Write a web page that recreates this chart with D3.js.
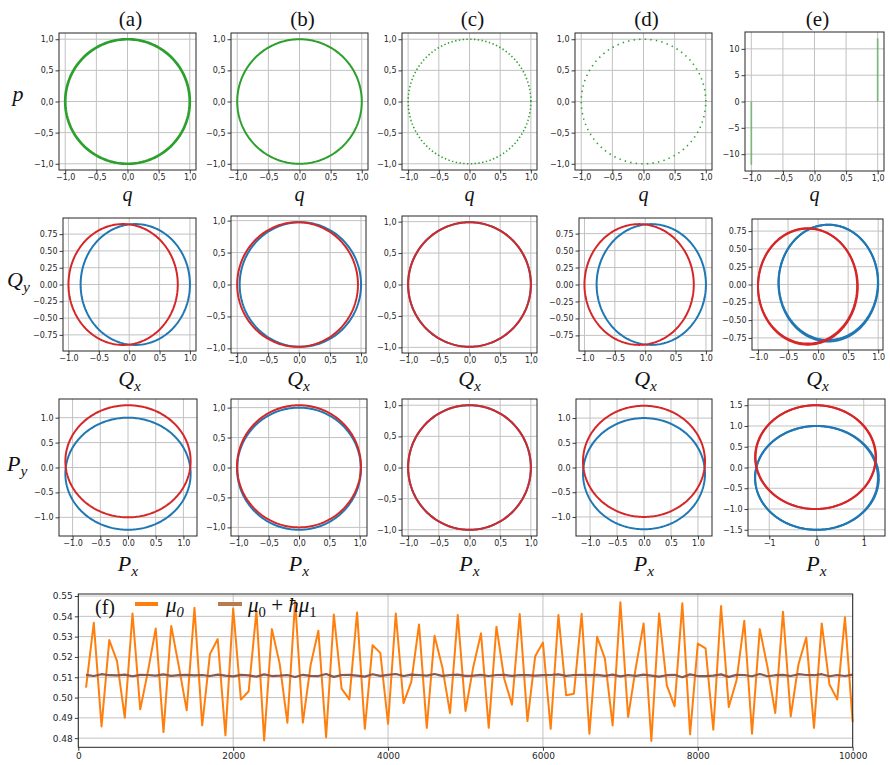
<!DOCTYPE html>
<html>
<head>
<meta charset="utf-8">
<script src="https://cdn.jsdelivr.net/npm/d3@7"></script>
<style>
  body { margin: 0; background: #fff; }
  svg { display: block; }
</style>
</head>
<body>
<svg id="chart" width="890" height="765"></svg>
<script>
// ---- data ----
const panelTitles = ["(a)", "(b)", "(c)", "(d)", "(e)"];

// row 1: phase portraits (q, p); radius of the sampled circle per column
const phaseRadius = [1.0, 1.0, 1.0, 1.0];
const phaseStyle = ["dense", "solid", "dots", "sparse"];
// row 1 (e): the two jumps, [q, p start, p end]
const phaseJumps = [[-1, 0, -12], [1, 0, 12]];

// rows 2 and 3: orbits, [column, series, cx, cy, rx, ry, tilt in degrees]
const qOrbits = [
  [0, "A", 0.10, 0.00, 0.90, 0.90, 0],
  [0, "B", -0.10, 0.00, 0.90, 0.90, 0],
  [1, "A", 0.02, 0.00, 0.98, 0.975, 0],
  [1, "B", -0.025, 0.00, 0.975, 0.975, 0],
  [2, "A", 0.00, 0.00, 1.00, 0.99, 0],
  [2, "B", 0.00, 0.00, 1.00, 0.99, 0],
  [3, "A", 0.10, 0.00, 0.90, 0.89, 0],
  [3, "B", -0.10, 0.00, 0.90, 0.89, 0],
  [4, "A", 0.17, 0.02, 0.83, 0.82, 0],
  [4, "A", 0.17, 0.03, 0.825, 0.81, 3],
  [4, "B", -0.175, -0.02, 0.825, 0.81, 0],
  [4, "B", -0.17, -0.03, 0.83, 0.815, 3]
];
const pOrbits = [
  [0, "A", 0.00, -0.125, 1.13, 1.125, 0],
  [0, "B", 0.00, 0.125, 1.13, 1.125, 0],
  [1, "A", 0.00, -0.02, 1.02, 1.02, 0],
  [1, "B", 0.00, 0.02, 1.02, 1.02, 0],
  [2, "A", 0.00, 0.00, 1.00, 1.00, 0],
  [2, "B", 0.00, 0.00, 1.00, 1.00, 0],
  [3, "A", 0.00, -0.125, 1.13, 1.125, 0],
  [3, "B", 0.00, 0.125, 1.13, 1.125, 0],
  [4, "A", 0.01, -0.25, 1.31, 1.25, 0],
  [4, "A", 0.00, -0.25, 1.30, 1.25, -2],
  [4, "B", -0.02, 0.25, 1.27, 1.25, 0],
  [4, "B", -0.02, 0.25, 1.28, 1.25, 2]
];

// panel (f): time series, one value every 100 steps
const stepSize = 100;
const mu0 = [
  0.5049, 0.5368, 0.4858, 0.5283, 0.5179, 0.4901, 0.5414, 0.4942, 0.5130, 0.5340,
  0.4830, 0.5353, 0.5150, 0.4937, 0.5442, 0.4863, 0.5214, 0.5288, 0.4814, 0.5439,
  0.4990, 0.5031, 0.5426, 0.4789, 0.5337, 0.5167, 0.4876, 0.5475, 0.4876, 0.5160,
  0.5329, 0.4805, 0.5409, 0.5044, 0.4991, 0.5419, 0.4846, 0.5258, 0.5220, 0.4871,
  0.5414, 0.4973, 0.5077, 0.5360, 0.4851, 0.5304, 0.5151, 0.4924, 0.5406, 0.4934,
  0.5150, 0.5316, 0.4851, 0.5349, 0.5093, 0.4965, 0.5411, 0.4884, 0.5204, 0.5271,
  0.4846, 0.5406, 0.5011, 0.5019, 0.5413, 0.4822, 0.5299, 0.5192, 0.4863, 0.5469,
  0.4904, 0.5150, 0.5365, 0.4786, 0.5414, 0.5060, 0.4957, 0.5464, 0.4819, 0.5266,
  0.5242, 0.4842, 0.5451, 0.4953, 0.5085, 0.5378, 0.4822, 0.5337, 0.5150, 0.4924,
  0.5423, 0.4907, 0.5164, 0.5296, 0.4851, 0.5365, 0.5064, 0.4991, 0.5395, 0.4879
];
const mu01 = [
  0.5112, 0.5106, 0.5115, 0.5110, 0.5109, 0.5113, 0.5105, 0.5112, 0.5111, 0.5108,
  0.5114, 0.5107, 0.5110, 0.5112, 0.5109, 0.5111, 0.5106, 0.5113, 0.5108, 0.5104,
  0.5112, 0.5109, 0.5103, 0.5114, 0.5106, 0.5108, 0.5111, 0.5101, 0.5112, 0.5107,
  0.5106, 0.5116, 0.5102, 0.5111, 0.5112, 0.5108, 0.5103, 0.5115, 0.5107, 0.5112,
  0.5116, 0.5106, 0.5113, 0.5111, 0.5108, 0.5116, 0.5107, 0.5111, 0.5113, 0.5107,
  0.5108, 0.5112, 0.5106, 0.5111, 0.5112, 0.5107, 0.5111, 0.5110, 0.5108, 0.5110,
  0.5111, 0.5114, 0.5107, 0.5111, 0.5112, 0.5110, 0.5112, 0.5107, 0.5113, 0.5104,
  0.5111, 0.5107, 0.5113, 0.5108, 0.5103, 0.5110, 0.5112, 0.5100, 0.5114, 0.5106,
  0.5106, 0.5108, 0.5114, 0.5102, 0.5112, 0.5111, 0.5105, 0.5116, 0.5105, 0.5110,
  0.5112, 0.5106, 0.5115, 0.5111, 0.5110, 0.5115, 0.5105, 0.5111, 0.5106, 0.5113
];
const fXTicks = [0, 2000, 4000, 6000, 8000, 10000];
const fYTicks = [0.48, 0.49, 0.50, 0.51, 0.52, 0.53, 0.54, 0.55];

// ---- layout ----
const SERIF = "'Liberation Serif','DejaVu Serif',serif";
const SANS = "'DejaVu Sans',sans-serif";
const GREEN = "#2ca02c", ORANGE = "#ff7f0e", BROWN = "#8c564b";
const seriesColor = { A: "#1f77b4", B: "#d62728" };

const svg = d3.select("#chart");
svg.append("rect").attr("width", 890).attr("height", 765).attr("fill", "#fff");

// [left, right, top, bottom] of each axes box
const boxes = [
  [[59, 196, 33, 170], [231, 368, 33, 170], [402, 537, 33, 170], [575, 712, 33, 170], [745, 884, 32, 171]],
  [[63, 196, 218, 351], [231, 366, 216, 353], [402, 537, 216, 353], [579, 712, 218, 351], [752, 883, 219, 350]],
  [[59, 197, 399, 536], [231, 367, 399, 536], [402, 537, 399, 536], [576, 712, 399, 536], [748, 885, 399, 536]]
];

const t1 = [-1, -0.5, 0, 0.5, 1];
const tq = [-0.75, -0.5, -0.25, 0, 0.25, 0.5, 0.75];
const specs = [
  [
    { xd: [-1.1, 1.1], yd: [-1.1, 1.1], xt: t1, yt: t1, xdec: 1, ydec: 1, comma: true },
    { xd: [-1.1, 1.1], yd: [-1.1, 1.1], xt: t1, yt: t1, xdec: 1, ydec: 1, comma: true },
    { xd: [-1.1, 1.1], yd: [-1.1, 1.1], xt: t1, yt: t1, xdec: 1, ydec: 1, comma: true },
    { xd: [-1.1, 1.1], yd: [-1.1, 1.1], xt: t1, yt: t1, xdec: 1, ydec: 1, comma: true },
    { xd: [-1.1, 1.1], yd: [-13.2, 13.2], xt: t1, yt: [-10, -5, 0, 5, 10], xdec: 1, ydec: 0, comma: true }
  ],
  [
    { xd: [-1.09, 1.1], yd: [-0.99, 0.99], xt: t1, yt: tq, xdec: 1, ydec: 2, comma: false },
    { xd: [-1.1, 1.08], yd: [-1.0725, 1.0725], xt: t1, yt: t1, xdec: 1, ydec: 1, comma: true },
    { xd: [-1.1, 1.1], yd: [-1.09, 1.09], xt: t1, yt: t1, xdec: 1, ydec: 1, comma: true },
    { xd: [-1.09, 1.1], yd: [-0.98, 0.98], xt: t1, yt: tq, xdec: 1, ydec: 2, comma: false },
    { xd: [-1.1, 1.08], yd: [-0.92, 0.92], xt: t1, yt: tq, xdec: 1, ydec: 2, comma: false }
  ],
  [
    { xd: [-1.245, 1.245], yd: [-1.375, 1.375], xt: t1, yt: [-1, -0.5, 0, 0.5, 1], xdec: 1, ydec: 1, comma: false },
    { xd: [-1.12, 1.12], yd: [-1.144, 1.144], xt: t1, yt: t1, xdec: 1, ydec: 1, comma: true },
    { xd: [-1.1, 1.1], yd: [-1.1, 1.1], xt: t1, yt: t1, xdec: 1, ydec: 1, comma: true },
    { xd: [-1.26, 1.26], yd: [-1.386, 1.386], xt: t1, yt: [-1, -0.5, 0, 0.5, 1], xdec: 1, ydec: 1, comma: false },
    { xd: [-1.45, 1.45], yd: [-1.65, 1.65], xt: [-1, 0, 1], yt: [-1.5, -1, -0.5, 0, 0.5, 1, 1.5], xdec: 0, ydec: 1, comma: false }
  ]
];

function tickFmt(dec, comma) {
  const f = d3.format(`.${dec}f`);
  return v => comma ? f(v).replace(".", ",") : f(v);
}

let clipCount = 0;
function makePanel(box, spec, tickSize) {
  const [x0, x1, y0, y1] = box;
  const x = d3.scaleLinear().domain(spec.xd).range([x0, x1]);
  const y = d3.scaleLinear().domain(spec.yd).range([y1, y0]);
  const g = svg.append("g");
  const id = "clip" + (clipCount++);
  svg.append("clipPath").attr("id", id)
    .append("rect").attr("x", x0).attr("y", y0).attr("width", x1 - x0).attr("height", y1 - y0);

  const grid = g.append("g").attr("stroke", "#c2c2c2").attr("stroke-width", 1);
  grid.selectAll(".gx").data(spec.xt).join("line")
    .attr("x1", d => x(d)).attr("x2", d => x(d)).attr("y1", y0).attr("y2", y1);
  grid.selectAll(".gy").data(spec.yt).join("line")
    .attr("y1", d => y(d)).attr("y2", d => y(d)).attr("x1", x0).attr("x2", x1);

  const styleAxis = a => {
    a.select(".domain").remove();
    a.selectAll("text").attr("font-family", SANS).attr("font-size", tickSize).attr("fill", "#262626");
    a.selectAll("line").attr("stroke", "#262626").attr("stroke-width", 0.9);
  };
  g.append("g").attr("transform", `translate(0,${y1})`)
    .call(d3.axisBottom(x).tickValues(spec.xt).tickFormat(tickFmt(spec.xdec, spec.comma))
      .tickSize(3.5).tickPadding(1).tickSizeOuter(0))
    .call(styleAxis);
  g.append("g").attr("transform", `translate(${x0},0)`)
    .call(d3.axisLeft(y).tickValues(spec.yt).tickFormat(tickFmt(spec.ydec, spec.comma))
      .tickSize(3.5).tickPadding(2).tickSizeOuter(0))
    .call(styleAxis);

  g.append("rect").attr("x", x0).attr("y", y0).attr("width", x1 - x0).attr("height", y1 - y0)
    .attr("fill", "none").attr("stroke", "#262626").attr("stroke-width", 1);

  const plot = g.append("g").attr("clip-path", `url(#${id})`);
  return { x, y, plot };
}

const angles = d3.range(0, 2 * Math.PI + 1e-6, Math.PI / 120);
function orbitPoints(cx, cy, rx, ry, tiltDeg) {
  const t = tiltDeg * Math.PI / 180;
  return angles.map(a => {
    const ex = rx * Math.cos(a), ey = ry * Math.sin(a);
    return [cx + ex * Math.cos(t) - ey * Math.sin(t), cy + ex * Math.sin(t) + ey * Math.cos(t)];
  });
}

function mathLabel(x, y, base, sub, size, anchor) {
  const t = svg.append("text").attr("x", x).attr("y", y)
    .attr("font-family", SERIF).attr("font-style", "italic")
    .attr("font-size", size).attr("text-anchor", anchor || "middle").attr("fill", "#111");
  t.append("tspan").text(base);
  if (sub) t.append("tspan").attr("dy", size * 0.22).attr("font-size", size * 0.7).text(sub);
  return t;
}

// ---- titles ----
panelTitles.forEach((s, c) => {
  const b = boxes[0][c];
  svg.append("text").attr("x", (b[0] + b[1]) / 2 + 3).attr("y", 26)
    .attr("text-anchor", "middle").attr("font-family", SERIF).attr("font-size", 21)
    .attr("fill", "#111").text(s);
});

// ---- row 1 ----
specs[0].forEach((spec, c) => {
  const p = makePanel(boxes[0][c], spec, 8);
  const line = d3.line().x(d => p.x(d[0])).y(d => p.y(d[1]));
  if (c < 4) {
    const r = phaseRadius[c];
    const style = phaseStyle[c];
    const path = p.plot.append("path").attr("d", line(orbitPoints(0, 0, r, r, 0)))
      .attr("fill", "none").attr("stroke", GREEN);
    if (style === "dense") path.attr("stroke-width", 2.7);
    if (style === "solid") path.attr("stroke-width", 2);
    if (style === "dots") path.attr("stroke-width", 1.6).attr("stroke-dasharray", "1.4 2.4");
    if (style === "sparse") path.attr("stroke-width", 1.6).attr("stroke-dasharray", "1.4 4.2");
  } else {
    p.plot.selectAll(".jump").data(phaseJumps).join("line")
      .attr("x1", d => p.x(d[0])).attr("x2", d => p.x(d[0]))
      .attr("y1", d => p.y(d[1])).attr("y2", d => p.y(d[2]))
      .attr("stroke", GREEN).attr("stroke-opacity", 0.5).attr("stroke-width", 1.8);
  }
  const b = boxes[0][c];
  mathLabel((b[0] + b[1]) / 2, 201, "q", null, 20);
});
mathLabel(18, 101, "p", null, 22);

// ---- rows 2 and 3 ----
[qOrbits, pOrbits].forEach((orbits, k) => {
  const row = k + 1;
  specs[row].forEach((spec, c) => {
    const p = makePanel(boxes[row][c], spec, 8);
    const line = d3.line().x(d => p.x(d[0])).y(d => p.y(d[1]));
    const mine = orbits.filter(o => o[0] === c);
    // series A first, B drawn on top
    mine.filter(o => o[1] === "A").concat(mine.filter(o => o[1] === "B")).forEach(o => {
      p.plot.append("path").attr("d", line(orbitPoints(o[2], o[3], o[4], o[5], o[6])))
        .attr("fill", "none").attr("stroke", seriesColor[o[1]]).attr("stroke-width", 2);
    });
    const b = boxes[row][c];
    mathLabel((b[0] + b[1]) / 2, row === 1 ? 386 : 571, row === 1 ? "Q" : "P", "x", 22);
  });
});
mathLabel(7, 287, "Q", "y", 22, "start");
mathLabel(7, 471, "P", "y", 22, "start");

// ---- panel (f) ----
const fb = [78.3, 852.7, 594, 747.3];
const fx = d3.scaleLinear().domain([0, 10000]).range([fb[0], fb[1]]);
const fy = d3.scaleLinear().domain([0.4755, 0.551]).range([fb[3], fb[2]]);
const fg = svg.append("g");
const fgrid = fg.append("g").attr("stroke", "#c2c2c2").attr("stroke-width", 1);
fgrid.selectAll(".gx").data(fXTicks).join("line")
  .attr("x1", d => fx(d)).attr("x2", d => fx(d)).attr("y1", fb[2]).attr("y2", fb[3]);
fgrid.selectAll(".gy").data(fYTicks).join("line")
  .attr("y1", d => fy(d)).attr("y2", d => fy(d)).attr("x1", fb[0]).attr("x2", fb[1]);

const fStyle = a => {
  a.select(".domain").remove();
  a.selectAll("text").attr("font-family", SANS).attr("font-size", 9).attr("fill", "#262626");
  a.selectAll("line").attr("stroke", "#262626").attr("stroke-width", 0.9);
};
fg.append("g").attr("transform", `translate(0,${fb[3]})`)
  .call(d3.axisBottom(fx).tickValues(fXTicks).tickFormat(d3.format("d")).tickSize(3.5).tickPadding(2).tickSizeOuter(0))
  .call(fStyle);
fg.append("g").attr("transform", `translate(${fb[0]},0)`)
  .call(d3.axisLeft(fy).tickValues(fYTicks).tickFormat(d3.format(".2f")).tickSize(3.5).tickPadding(2).tickSizeOuter(0))
  .call(fStyle);

const fLine = d3.line().x((d, i) => fx((i + 1) * stepSize)).y(d => fy(d));
fg.append("path").attr("d", fLine(mu0)).attr("fill", "none")
  .attr("stroke", ORANGE).attr("stroke-width", 2).attr("stroke-linejoin", "round");
fg.append("path").attr("d", fLine(mu01)).attr("fill", "none")
  .attr("stroke", BROWN).attr("stroke-width", 2.2).attr("stroke-linejoin", "round");

fg.append("rect").attr("x", fb[0]).attr("y", fb[2]).attr("width", fb[1] - fb[0]).attr("height", fb[3] - fb[2])
  .attr("fill", "none").attr("stroke", "#262626").attr("stroke-width", 1);

// legend
svg.append("text").attr("x", 95).attr("y", 614).attr("font-family", SERIF).attr("font-size", 20)
  .attr("fill", "#111").text("(f)");
svg.append("line").attr("x1", 135).attr("x2", 158).attr("y1", 604).attr("y2", 604)
  .attr("stroke", ORANGE).attr("stroke-width", 4);
mathLabel(166, 612, "μ", "0", 21, "start");
svg.append("line").attr("x1", 218).attr("x2", 242).attr("y1", 604).attr("y2", 604)
  .attr("stroke", "#b97a4f").attr("stroke-width", 4);
const leg2 = svg.append("text").attr("x", 248).attr("y", 612)
  .attr("font-family", SERIF).attr("font-size", 21).attr("fill", "#111");
leg2.append("tspan").attr("font-style", "italic").text("μ");
leg2.append("tspan").attr("dy", 4.6).attr("font-size", 14.7).text("0");
leg2.append("tspan").attr("dy", -4.6).text(" + ");
leg2.append("tspan").attr("font-style", "italic").text("ħμ");
leg2.append("tspan").attr("dy", 4.6).attr("font-size", 14.7).text("1");
</script>
</body>
</html>
